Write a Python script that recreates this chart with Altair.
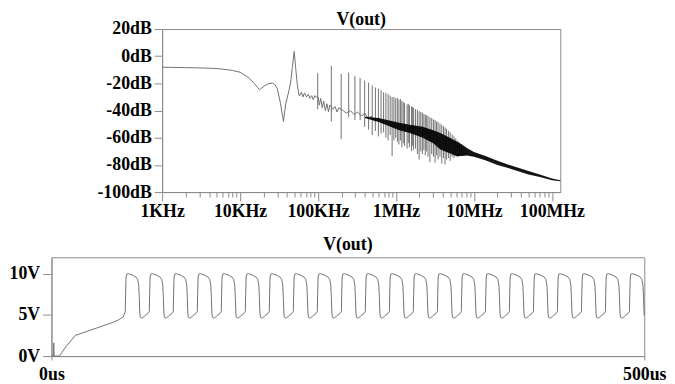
import altair as alt
import pandas as pd

# ---------------- spectrum (top panel) ----------------
# smooth / low-frequency part and baseline of the trace (kHz, dB)
line_khz = [1, 2, 3, 4.3, 6, 8, 10, 12.6, 15.3, 17.7, 20.4, 23, 26, 28, 30, 33, 36, 38.5,
            42.5, 45, 46.8, 49.4, 51.5, 54, 56.8, 58.5, 61, 64, 67, 71, 75, 79, 83, 87,
            91, 95, 100, 104, 108, 113, 118, 124, 130, 136, 142, 155, 165, 175, 185, 210,
            230, 260, 290, 320, 360, 400, 440, 480, 540, 600, 660, 720, 800, 900]
line_db = [-8.1, -8.4, -8.6, -8.9, -9.5, -10.5, -11.8, -15.4, -20.2, -24.6, -22, -20.2,
           -19.8, -21, -23.9, -34.8, -48, -34.8, -25, -17, -8.1, 3.5, -8, -20, -28.7, -29,
           -26.5, -30, -27, -30, -28, -31, -29, -32, -29, -30, -30, -36, -31, -38, -33, -40,
           -35, -41, -36, -39, -37, -41, -38, -40, -42, -40, -43, -41, -44, -42, -46, -44,
           -48, -46, -49, -48, -50, -49]

# dense black band of the trace (MHz, upper dB, lower dB)
band_mhz = [0.4, 0.6, 0.85, 1.1, 1.5, 2.2, 3.0, 3.7, 4.7, 6.0, 7.0, 8.1, 10, 14, 20, 30,
            50, 70, 100, 128]
band_hi = [-44.5, -45.5, -47.5, -49, -50.5, -52, -54.5, -56.6, -59.5, -62.7, -65, -67.5,
           -70.5, -73.5, -77, -80.5, -84.5, -87, -90, -91.3]
band_lo = [-45.5, -48.5, -52, -54.5, -56.6, -60, -64, -68.7, -71, -73.6, -73.5, -73, -74,
           -76.5, -80, -83, -87, -89, -91.3, -92]

# harmonic spikes (kHz, peak dB, trough dB)
spike_khz = [99, 148, 198, 247, 297, 346, 396, 445, 495, 544, 594, 643, 693, 742, 792, 841,
             891, 940, 990, 1040, 1089, 1139, 1188, 1238, 1287, 1386, 1436, 1485, 1584, 1634,
             1683, 1782, 1881, 1980, 2079, 2178, 2277, 2376, 2475, 2574, 2723, 2871, 3020,
             3168, 3317, 3465, 3663, 3861, 4059, 4257, 4455, 4703, 4950, 5247, 5544, 5841,
             6188, 6534, 6930, 7425, 7920]
spike_top = [-12.5, -7, -13, -12, -14.5, -16, -18, -19.5, -21.5, -23, -24, -25, -26.5, -27,
             -28, -29, -30, -30, -31, -30.5, -32, -31.5, -33, -33.5, -34.5, -35.5, -35, -36,
             -37, -37.5, -38, -39, -39.5, -40.5, -41, -41.5, -42.5, -43, -43.5, -44, -45,
             -45.5, -46.5, -47, -48, -48.5, -49.5, -50.5, -51.5, -52.5, -53.5, -55, -56,
             -57.5, -59, -60.5, -62, -63.5, -65, -67, -68]
spike_bot = [-39, -48, -61, -45, -47, -47, -52, -54, -58, -55, -59, -57, -56, -60, -62, -58,
             -73.6, -62, -60, -63, -65, -62, -67, -64, -66, -68, -64, -67, -70, -66, -69,
             -68, -72, -76, -70, -72, -69, -73, -70, -74, -78, -72, -74, -78.4, -73, -76,
             -74, -79, -75, -79.6, -76, -75, -77, -74, -75, -73, -74, -73, -73, -73, -73]

decades = [1000, 10000, 100000, 1000000, 10000000, 100000000]
decade_labels = ["1KHz", "10KHz", "100KHz", "1MHz", "10MHz", "100MHz"]
minor_mult = [1, 2, 3, 4, 5, 6, 7, 8, 9]
db_ticks = [-100, -80, -60, -40, -20, 0, 20]

# ---------------- transient (bottom panel) ----------------
pre_t = [0, 1.6, 1.9, 2.2, 6.7, 12, 20, 30, 40, 50, 56, 60.5]
pre_v = [0, 0, 1.6, 0, 0, 1.1, 2.5, 3.0, 3.5, 4.0, 4.35, 4.75]
rise_us = [62.2, 82.5, 102.7, 123.0, 143.2, 163.5, 183.7, 204.0, 224.2, 244.5, 264.7,
           285.0, 305.2, 325.5, 345.7, 366.0, 386.2, 406.5, 426.7, 447.0, 467.2, 487.5]
cycle_dt = [0, 0.3, 0.7, 1.2, 2.5, 6, 9, 10.5, 11.4, 11.9, 12.3, 12.8, 13.6, 15, 17, 19, 20]
cycle_v = [5.4, 7.5, 9.6, 9.95, 10.0, 9.85, 9.6, 9.3, 8.6, 7.0, 5.2, 4.7, 4.6, 4.7, 4.95,
           5.15, 5.35]
end_t, end_v = 500, 4.9
v_ticks = [0, 5, 10]
t_ticks = [0, 500]

# ---------------- tables ----------------
df_line = pd.DataFrame({"f": [v * 1000 for v in line_khz], "db": line_db,
                        "i": range(len(line_khz))})
df_band = pd.DataFrame({"f": [v * 1e6 for v in band_mhz], "hi": band_hi, "lo": band_lo})
df_spk = pd.DataFrame({"f": [v * 1000 for v in spike_khz], "top": spike_top, "bot": spike_bot})

wt, wv = list(pre_t), list(pre_v)
for r in rise_us:
    for dt, v in zip(cycle_dt, cycle_v):
        if r + dt < end_t:
            wt.append(r + dt)
            wv.append(v)
wt.append(end_t)
wv.append(end_v)
df_wave = pd.DataFrame({"t": wt, "v": wv, "i": range(len(wt))})

all_ticks = [d * m for d in decades for m in minor_mult]
label_expr = "".join(
    f"datum.value == {d} ? '{l}' : " for d, l in zip(decades, decade_labels)) + "''"
decade_test = "indexof([" + ",".join(str(d) for d in decades) + "], datum.value) >= 0"

FONT = "Liberation Serif"
GRAY = "#8a8a8a"
TRACE = "#707070"

xs = alt.Scale(type="log", domain=[1000, 1.28e8], nice=False)
ys = alt.Scale(domain=[-100, 20], nice=False, zero=False)


def xaxis():
    return alt.Axis(values=all_ticks, labelExpr=label_expr,
                    tickSize={"condition": {"test": decade_test, "value": 9}, "value": 5},
                    labelPadding=2, title=None, labelOverlap=False, labelFlush=False)


def yaxis():
    return alt.Axis(values=db_ticks, labelExpr="datum.value + 'dB'", tickSize=8,
                    labelPadding=3, title=None, labelOverlap=False, labelFlush=False,
                    labelSeparation=0)


spikes = alt.Chart(df_spk).mark_rule(stroke=TRACE, strokeWidth=1).encode(
    x=alt.X("f:Q", scale=xs, axis=xaxis()), y=alt.Y("top:Q", scale=ys, axis=yaxis()),
    y2="bot:Q")
trace = alt.Chart(df_line).mark_line(stroke=TRACE, strokeWidth=1).encode(
    x=alt.X("f:Q", scale=xs, axis=xaxis()), y=alt.Y("db:Q", scale=ys, axis=yaxis()),
    order="i:Q")
band = alt.Chart(df_band).mark_area(color="black", opacity=0.92).encode(
    x=alt.X("f:Q", scale=xs, axis=xaxis()), y=alt.Y("hi:Q", scale=ys, axis=yaxis()),
    y2="lo:Q")

top = alt.layer(spikes, trace, band).properties(
    width=403, height=165,
    title=alt.TitleParams("V(out)", frame="group", anchor="middle", offset=-9))

spacer = alt.Chart(pd.DataFrame({"a": [0]})).mark_point(opacity=0).encode(
    x=alt.value(0), y=alt.value(0)
).properties(width=45, height=10, view=alt.ViewBackground(strokeWidth=0, stroke=None))

top_row = alt.hconcat(spacer, top, spacing=0)

wave = alt.Chart(df_wave).mark_line(stroke=TRACE, strokeWidth=1).encode(
    x=alt.X("t:Q", scale=alt.Scale(domain=[0, 500], nice=False),
            axis=alt.Axis(values=t_ticks, labelExpr="datum.value + 'us'", tickSize=4,
                          labelPadding=6, title=None, labelOverlap=False, labelFlush=False)),
    y=alt.Y("v:Q", scale=alt.Scale(domain=[0, 12], nice=False),
            axis=alt.Axis(values=v_ticks, labelExpr="datum.value + 'V'", tickSize=9,
                          labelPadding=3, title=None, labelOverlap=False, labelFlush=False)),
    order="i:Q",
).properties(width=600, height=100,
             title=alt.TitleParams("V(out)", frame="group", anchor="middle", offset=3))

chart = alt.vconcat(top_row, wave, spacing=14).properties(padding=0).configure_view(
    stroke=GRAY, strokeWidth=1
).configure_axis(
    labelFont=FONT, labelFontSize=18, labelFontWeight="bold", labelColor="black",
    domainColor=GRAY, tickColor=GRAY, grid=False, labelFlush=False, labelOverlap=False,
    labelBound=False
).configure_title(
    font=FONT, fontSize=18, fontWeight="bold", color="black"
)

chart.save("out.html", embed_options={"renderer": "svg", "actions": False})
